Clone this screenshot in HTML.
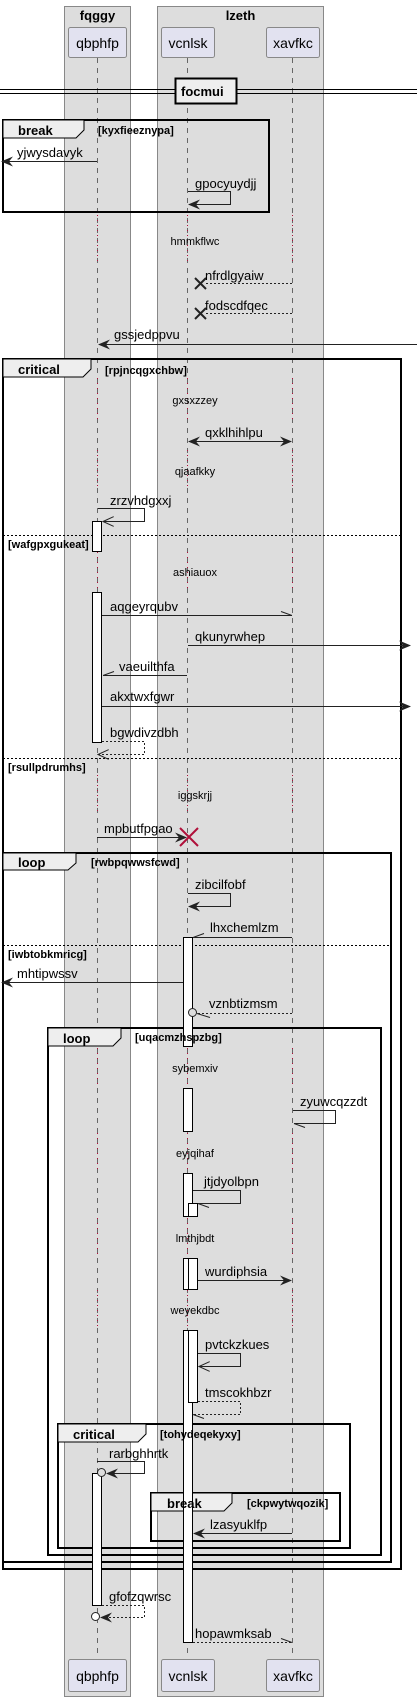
<!DOCTYPE html>
<html><head><meta charset="utf-8"><style>
html,body{margin:0;padding:0;background:#fff;}
svg{display:block;font-family:"Liberation Sans",sans-serif;}
.m{font-size:13px;fill:#000;}
.d{font-size:11px;fill:#000;}
.b{font-size:13px;font-weight:bold;fill:#000;}
.g{font-size:13px;font-weight:bold;fill:#000;}
.p{font-size:14px;fill:#000;}
</style></head><body>
<svg width="417" height="1701" viewBox="0 0 417 1701" xmlns="http://www.w3.org/2000/svg">
<defs>
<marker id="f" viewBox="0 0 12 10" refX="11" refY="5" markerWidth="12" markerHeight="10" orient="auto-start-reverse" markerUnits="userSpaceOnUse"><path d="M0,0 L12,5 L0,10 L4,5 Z" fill="#222"/></marker>
<marker id="o" viewBox="0 0 12 10" refX="11" refY="5" markerWidth="12" markerHeight="10" orient="auto" markerUnits="userSpaceOnUse"><path d="M0,0 L11,5 L0,10" fill="none" stroke="#222" stroke-width="1"/></marker>
</defs>
<rect x="64.5" y="6.5" width="66" height="1690" fill="#ddd" stroke="#888"/>
<rect x="157.5" y="6.5" width="166" height="1690" fill="#ddd" stroke="#888"/>
<text x="97.5" y="20" text-anchor="middle" class="g">fqggy</text>
<text x="240.5" y="20" text-anchor="middle" class="g">lzeth</text>
<g stroke="#666" stroke-dasharray="5,5" stroke-width="1">
<line x1="97.5" y1="58" x2="97.5" y2="1658"/>
<line x1="187.5" y1="58" x2="187.5" y2="1658"/>
<line x1="292.5" y1="58" x2="292.5" y2="1658"/>
</g>
<g stroke="#b0103a" stroke-dasharray="1,4" stroke-width="1">
<line x1="97.5" y1="215" x2="97.5" y2="265"/><line x1="187.5" y1="215" x2="187.5" y2="265"/><line x1="292.5" y1="215" x2="292.5" y2="265"/>
<line x1="97.5" y1="378" x2="97.5" y2="420"/><line x1="187.5" y1="378" x2="187.5" y2="420"/><line x1="292.5" y1="378" x2="292.5" y2="420"/>
<line x1="97.5" y1="450" x2="97.5" y2="490"/><line x1="187.5" y1="450" x2="187.5" y2="490"/><line x1="292.5" y1="450" x2="292.5" y2="490"/>
<line x1="97.5" y1="552" x2="97.5" y2="592"/><line x1="187.5" y1="552" x2="187.5" y2="592"/><line x1="292.5" y1="552" x2="292.5" y2="592"/>
<line x1="97.5" y1="775" x2="97.5" y2="815"/><line x1="187.5" y1="775" x2="187.5" y2="815"/><line x1="292.5" y1="775" x2="292.5" y2="815"/>
<line x1="97.5" y1="1048" x2="97.5" y2="1088"/><line x1="187.5" y1="1048" x2="187.5" y2="1088"/><line x1="292.5" y1="1048" x2="292.5" y2="1088"/>
<line x1="97.5" y1="1133" x2="97.5" y2="1173"/><line x1="187.5" y1="1133" x2="187.5" y2="1173"/><line x1="292.5" y1="1133" x2="292.5" y2="1173"/>
<line x1="97.5" y1="1218" x2="97.5" y2="1258"/><line x1="187.5" y1="1218" x2="187.5" y2="1258"/><line x1="292.5" y1="1218" x2="292.5" y2="1258"/>
<line x1="97.5" y1="1290" x2="97.5" y2="1330"/><line x1="187.5" y1="1290" x2="187.5" y2="1330"/><line x1="292.5" y1="1290" x2="292.5" y2="1330"/>
</g>
<g fill="#e2e2f0" stroke="#888">
<rect x="68.5" y="27.5" width="58" height="30" rx="2"/><rect x="161.5" y="27.5" width="53" height="30" rx="2"/><rect x="266.5" y="27.5" width="53" height="30" rx="2"/>
<rect x="68.5" y="1659.5" width="58" height="32" rx="2"/><rect x="161.5" y="1659.5" width="53" height="32" rx="2"/><rect x="266.5" y="1659.5" width="53" height="32" rx="2"/>
</g>
<g class="p" text-anchor="middle">
<text x="97.5" y="48">qbphfp</text><text x="188" y="48">vcnlsk</text><text x="293" y="48">xavfkc</text>
<text x="97.5" y="1681">qbphfp</text><text x="188" y="1681">vcnlsk</text><text x="293" y="1681">xavfkc</text>
</g>
<line x1="0" y1="89.5" x2="417" y2="89.5" stroke="#000"/><line x1="0" y1="93.5" x2="417" y2="93.5" stroke="#000"/>
<rect x="175.5" y="78.5" width="61" height="25" fill="#eee" stroke="#000" stroke-width="2"/>
<text x="181" y="96" class="b">focmui</text>

<g fill="none" stroke="#000" stroke-width="2">
<rect x="3" y="120" width="266" height="92"/>
<rect x="3" y="359" width="398" height="1210"/>
<rect x="3" y="853" width="388" height="709"/>
<rect x="48" y="1028" width="333" height="527"/>
<rect x="58" y="1424" width="292" height="124"/>
<rect x="151" y="1493" width="189" height="48"/>
</g>
<g fill="#eee" stroke="#000" stroke-width="1">
<path d="M3,120 H84 V130 L76,138 H3 Z"/>
<path d="M3,359 H91 V369 L83,377 H3 Z"/>
<path d="M3,853 H76 V863 L68,870 H3 Z"/>
<path d="M48,1028 H121 V1038 L113,1046 H48 Z"/>
<path d="M58,1424 H146 V1434 L138,1442 H58 Z"/>
<path d="M151,1493 H232 V1503 L224,1511 H151 Z"/>
</g>
<g stroke="#000" stroke-dasharray="2,2"><line x1="3" y1="535.5" x2="401" y2="535.5"/><line x1="3" y1="758.5" x2="401" y2="758.5"/><line x1="3" y1="945.5" x2="391" y2="945.5"/></g>

<g fill="#fff" stroke="#000">
<rect x="92.5" y="521.5" width="9" height="30"/>
<rect x="92.5" y="592.5" width="9" height="150"/>
<rect x="183.5" y="937.5" width="9" height="109"/>
<rect x="183.5" y="1088.5" width="9" height="43"/>
<rect x="183.5" y="1173.5" width="9" height="43"/>
<rect x="188.5" y="1203.5" width="9" height="13"/>
<rect x="183.5" y="1258.5" width="9" height="31"/>
<rect x="188.5" y="1258.5" width="9" height="31"/>
<rect x="183.5" y="1330.5" width="9" height="312"/>
<rect x="188.5" y="1330.5" width="9" height="72"/>
<rect x="92.5" y="1473.5" width="9" height="132"/>
</g>

<text x="18" y="135" class="b">break</text><text x="98" y="134" class="d" font-weight="bold">[kyxfieeznypa]</text>
<text x="18" y="374" class="b">critical</text><text x="105" y="374" class="d" font-weight="bold">[rpjncqgxchbw]</text>
<text x="18" y="867" class="b">loop</text><text x="91" y="866" class="d" font-weight="bold">[rwbpqwwsfcwd]</text>
<text x="63" y="1043" class="b">loop</text><text x="135" y="1041" class="d" font-weight="bold">[uqacmzhspzbg]</text>
<text x="73" y="1439" class="b">critical</text><text x="160" y="1438" class="d" font-weight="bold">[tohydeqekyxy]</text>
<text x="167" y="1508" class="b">break</text><text x="247" y="1507" class="d" font-weight="bold">[ckpwytwqozik]</text>
<text x="8" y="548" class="d" font-weight="bold">[wafgpxgukeat]</text>
<text x="8" y="771" class="d" font-weight="bold">[rsullpdrumhs]</text>
<text x="8" y="958" class="d" font-weight="bold">[iwbtobkmricg]</text>

<g class="d" text-anchor="middle">
<text x="195" y="245">hmmkflwc</text><text x="195" y="404">gxsxzzey</text><text x="195" y="475">qjaafkky</text>
<text x="195" y="576">ashiauox</text><text x="195" y="799">iggskrjj</text><text x="195" y="1072">sybemxiv</text>
<text x="195" y="1157">eyjqihaf</text><text x="195" y="1242">lmthjbdt</text><text x="195" y="1314">weyekdbc</text>
</g>

<g fill="none" stroke="#222" stroke-width="1">
<line x1="97" y1="161.5" x2="2" y2="161.5" marker-end="url(#f)"/>
<path d="M188,191.5 H230.5 V204.5 H189" marker-end="url(#f)"/>
<line x1="292" y1="283.5" x2="204" y2="283.5" stroke-dasharray="2,2"/>
<line x1="292" y1="313.5" x2="204" y2="313.5" stroke-dasharray="2,2"/>
<line x1="417" y1="344.5" x2="99" y2="344.5" marker-end="url(#f)"/>
<line x1="189" y1="441.5" x2="291" y2="441.5" marker-start="url(#f)" marker-end="url(#f)"/>
<path d="M98,508.5 H144.5 V521.5 H103" marker-end="url(#o)"/>
<line x1="102" y1="615.5" x2="292" y2="615.5"/><line x1="281" y1="611.5" x2="292" y2="615.5"/>
<line x1="188" y1="645.5" x2="410" y2="645.5" marker-end="url(#f)"/>
<line x1="187" y1="675.5" x2="103" y2="675.5"/><line x1="103" y1="675.5" x2="114" y2="671.5"/>
<line x1="102" y1="706.5" x2="410" y2="706.5" marker-end="url(#f)"/>
<path d="M102,741.5 H144.5 V754.5 H98" stroke-dasharray="2,2" marker-end="url(#o)"/>
<line x1="97" y1="837.5" x2="186" y2="837.5" marker-end="url(#f)"/>
<path d="M188,893.5 H230.5 V906.5 H189" marker-end="url(#f)"/>
<line x1="292" y1="937.5" x2="193" y2="937.5"/><line x1="193" y1="937.5" x2="204" y2="933.5"/>
<line x1="183" y1="982.5" x2="2" y2="982.5" marker-end="url(#f)"/>
<line x1="292" y1="1013.5" x2="197" y2="1013.5" stroke-dasharray="2,2"/><line x1="197" y1="1013.5" x2="210" y2="1017.5"/>
<circle cx="192.5" cy="1012.5" r="4" fill="#ddd"/>
<path d="M293,1110.5 H335.5 V1123.5 H294"/><line x1="294" y1="1123.5" x2="305" y2="1127.5"/>
<path d="M193,1190.5 H240.5 V1203.5 H198"/><line x1="198" y1="1203.5" x2="209" y2="1207.5"/>
<line x1="198" y1="1280.5" x2="291" y2="1280.5" marker-end="url(#f)"/>
<path d="M198,1353.5 H240.5 V1366.5 H199" marker-end="url(#o)"/>
<path d="M198,1401.5 H240.5 V1414.5 H193" stroke-dasharray="2,2"/><line x1="193" y1="1414.5" x2="204" y2="1418.5"/>
<path d="M97,1461.5 H144.5 V1473.5 H107" marker-end="url(#f)"/>
<circle cx="101.5" cy="1472.5" r="4" fill="#ddd"/>
<line x1="292" y1="1533.5" x2="194" y2="1533.5" marker-end="url(#f)"/>
<path d="M102,1605.5 H144.5 V1617.5 H101" stroke-dasharray="2,2" marker-end="url(#f)"/>
<circle cx="95.5" cy="1616.5" r="4" fill="#fff"/>
<line x1="193" y1="1642.5" x2="292" y2="1642.5" stroke-dasharray="2,2"/><line x1="281" y1="1638.5" x2="292" y2="1642.5"/>
</g>
<g stroke="#222" stroke-width="2"><path d="M195,278 L206,289 M206,278 L195,289"/><path d="M195,308 L206,319 M206,308 L195,319"/></g>
<g stroke="#b0103a" stroke-width="2"><path d="M180,828 L198,846 M198,828 L180,846"/></g>

<g class="m">
<text x="17" y="157">yjwysdavyk</text>
<text x="195" y="188">gpocyuydjj</text>
<text x="205" y="280">nfrdlgyaiw</text>
<text x="205" y="310">fodscdfqec</text>
<text x="114" y="339">gssjedppvu</text>
<text x="205" y="437">qxklhihlpu</text>
<text x="110" y="505">zrzvhdgxxj</text>
<text x="110" y="611">aqgeyrqubv</text>
<text x="195" y="641">qkunyrwhep</text>
<text x="119" y="671">vaeuilthfa</text>
<text x="110" y="701">akxtwxfgwr</text>
<text x="110" y="737">bgwdivzdbh</text>
<text x="104" y="833">mpbutfpgao</text>
<text x="195" y="889">zibcilfobf</text>
<text x="210" y="932">lhxchemlzm</text>
<text x="17" y="978">mhtipwssv</text>
<text x="209" y="1008">vznbtizmsm</text>
<text x="300" y="1106">zyuwcqzzdt</text>
<text x="204" y="1186">jtjdyolbpn</text>
<text x="205" y="1276">wurdiphsia</text>
<text x="205" y="1349">pvtckzkues</text>
<text x="205" y="1397">tmscokhbzr</text>
<text x="109" y="1458">rarbghhrtk</text>
<text x="210" y="1529">lzasyuklfp</text>
<text x="109" y="1601">gfofzqwrsc</text>
<text x="195" y="1638">hopawmksab</text>
</g>
</svg>
</body></html>
